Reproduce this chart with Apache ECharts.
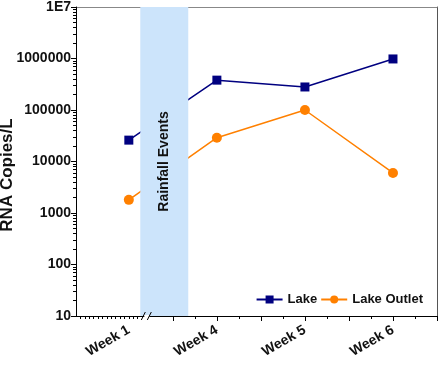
<!DOCTYPE html>
<html>
<head>
<meta charset="utf-8">
<script src="https://cdn.jsdelivr.net/npm/echarts@6/dist/echarts.min.js"></script>
<style>
  html, body { margin: 0; padding: 0; background: #fff; }
  #chart { width: 440px; height: 369px; }
</style>
</head>
<body>
<div id="chart"></div>
<script>
// weeks on the x axis (axis is broken between week 1 and week 4)
var weeks = ['Week 1', 'Week 4', 'Week 5', 'Week 6'];
// RNA copies per litre
var lake = [26000, 380000, 280000, 980000];
var lakeOutlet = [1800, 29000, 100000, 6000];
// y axis ticks
var yTicks = [10, 100, 1000, 10000, 100000, 1000000, 10000000];
var yTickLabels = ['10', '100', '1000', '10000', '100000', '1000000', '1E7'];
// rainfall band, in week-slot units (week i sits at slot i+1)
var rainfall = [1.13, 1.675];
var breakAt = 1.21;

var FONT = '"Liberation Sans", Arial, sans-serif';

// x ticks: small ones on the compressed left part, then half / quarter slots
var leftTicks = [];
for (var k = 1; k <= 14; k++) leftTicks.push(+(0.4 + k * 0.05).toFixed(2));
var bigTicks = [1.5, 2, 2.5, 3, 3.5, 4, 4.5];
var smallTicks = leftTicks.concat([1.75, 2.25, 2.75, 3.25, 3.75, 4.25]);

// log minor ticks 2..9 in each decade
var yMinor = [];
for (var d = 0; d < yTicks.length - 1; d++) {
  for (var m = 2; m <= 9; m++) yMinor.push(yTicks[d] * m);
}

function pts(vals) {
  return vals.map(function (v, i) { return [i + 1, v]; });
}

var chart = echarts.init(document.getElementById('chart'));
var option = {
  animation: false,
  grid: { left: 76, right: 3, top: 7, bottom: 53, outerBoundsMode: 'none' },
  legend: {
    data: ['Lake', 'Lake Outlet'],
    right: 12,
    top: 288,
    itemWidth: 26,
    itemHeight: 10,
    itemGap: 3,
    textStyle: { fontFamily: FONT, fontWeight: 'bold', fontSize: 13, color: '#111' }
  },
  xAxis: [
    {
      type: 'value', min: 0.4, max: 4.5, z: 6,
      splitLine: { show: false },
      axisLine: { lineStyle: { color: '#000', width: 1 } },
      axisTick: { customValues: bigTicks, length: 5, lineStyle: { color: '#000' } },
      axisLabel: {
        customValues: [1, 2, 3, 4],
        rotate: 30, margin: 13,
        fontFamily: FONT, fontWeight: 'bold', fontSize: 14, color: '#111',
        formatter: function (v) { return weeks[Math.round(v) - 1]; }
      }
    },
    {
      type: 'value', min: 0.4, max: 4.5, position: 'bottom', z: 6,
      splitLine: { show: false },
      axisLine: { show: false },
      axisTick: { customValues: smallTicks, length: 3, lineStyle: { color: '#000' } },
      axisLabel: { show: false }
    },
    {
      type: 'value', min: 0.4, max: 4.5, position: 'top',
      splitLine: { show: false },
      axisLine: { lineStyle: { color: '#888' } },
      axisTick: { show: false },
      axisLabel: { show: false }
    }
  ],
  yAxis: [
    {
      type: 'log', logBase: 10, min: 10, max: 10000000, z: 6,
      name: 'RNA Copies/L',
      nameLocation: 'middle',
      nameGap: 60,
      nameMoveOverlap: false,
      nameTextStyle: { fontFamily: FONT, fontWeight: 'bold', fontSize: 17, color: '#111', padding: [0, 27, 0, 0] },
      splitLine: { show: false },
      axisLine: { show: true, lineStyle: { color: '#000' } },
      axisTick: { show: true, customValues: yTicks, length: 5, lineStyle: { color: '#000' } },
      axisLabel: {
        customValues: yTicks, margin: 5,
        fontFamily: FONT, fontWeight: 'bold', fontSize: 14, color: '#111',
        formatter: function (v) {
          var i = yTicks.indexOf(Math.round(v));
          return i >= 0 ? yTickLabels[i] : '';
        }
      }
    },
    {
      type: 'log', logBase: 10, min: 10, max: 10000000, position: 'left', z: 6,
      splitLine: { show: false },
      axisLine: { show: false },
      axisTick: { show: true, customValues: yMinor, length: 3, lineStyle: { color: '#000' } },
      axisLabel: { show: false }
    },
    {
      type: 'log', logBase: 10, min: 10, max: 10000000, position: 'right',
      splitLine: { show: false },
      axisLine: { show: true, lineStyle: { color: '#555' } },
      axisTick: { show: false },
      axisLabel: { show: false }
    }
  ],
  series: [
    {
      name: 'Lake', type: 'line', z: 2,
      data: pts(lake),
      symbol: 'rect', symbolSize: 9,
      color: '#000080',
      lineStyle: { width: 1.5 }
    },
    {
      name: 'Lake Outlet', type: 'line', z: 2,
      data: pts(lakeOutlet),
      symbol: 'circle', symbolSize: 10,
      color: '#ff8000',
      lineStyle: { width: 1.5 }
    },
    {
      name: 'rain', type: 'line', z: 5, data: [],
      markArea: {
        silent: true, z: 5,
        itemStyle: { color: '#cce4fb' },
        label: {
          show: true, position: 'inside', rotate: 90,
          fontFamily: FONT, fontWeight: 'bold', fontSize: 14, color: '#111'
        },
        data: [[{ xAxis: rainfall[0], name: 'Rainfall Events' }, { xAxis: rainfall[1] }]]
      }
    }
  ]
};
chart.setOption(option);

// axis break marks "//"
var bx = chart.convertToPixel({ xAxisIndex: 0 }, breakAt);
var by = chart.convertToPixel({ yAxisIndex: 0 }, 10);
chart.setOption({
  graphic: [
    { type: 'rect', z: 100, shape: { x: bx - 3, y: by - 1, width: 5, height: 3 }, style: { fill: '#fff' } },
    { type: 'line', z: 101, shape: { x1: bx - 6, y1: by + 4, x2: bx - 2, y2: by - 4 }, style: { stroke: '#000', lineWidth: 1 } },
    { type: 'line', z: 101, shape: { x1: bx, y1: by + 4, x2: bx + 4, y2: by - 4 }, style: { stroke: '#000', lineWidth: 1 } }
  ]
});
</script>
</body>
</html>
